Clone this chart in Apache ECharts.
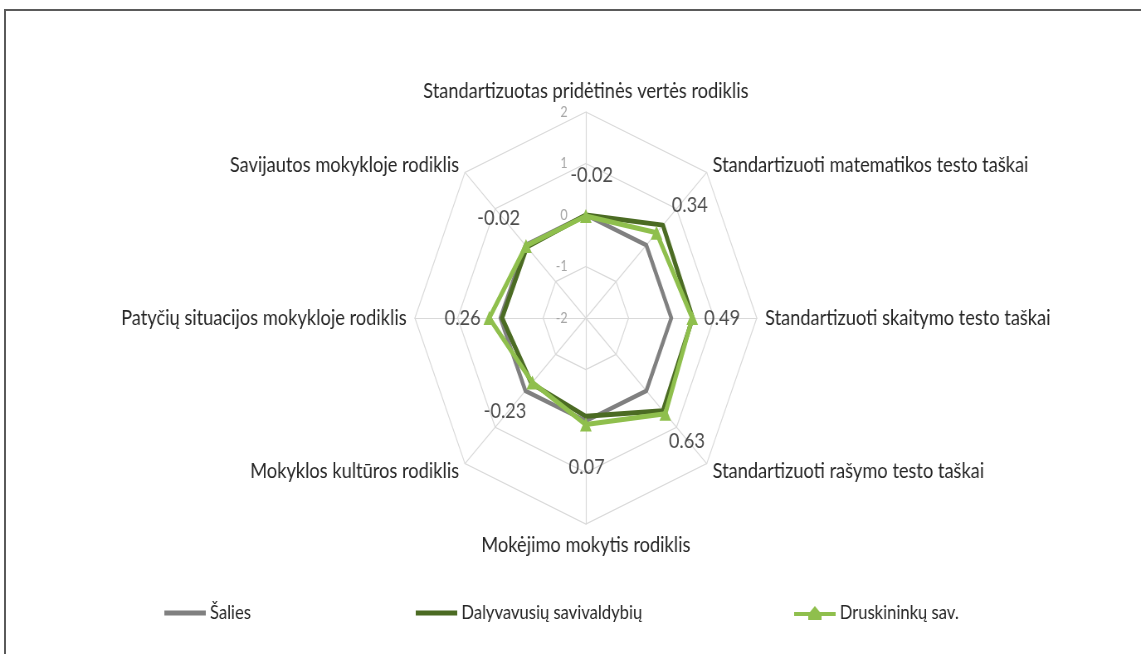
<!DOCTYPE html>
<html>
<head>
<meta charset="utf-8">
<script src="https://cdn.jsdelivr.net/npm/echarts@6/dist/echarts.min.js"></script>
<style>
  html, body { margin: 0; padding: 0; background: #fff; overflow: hidden; }
  #frame { position: absolute; left: 4px; top: 9px; width: 1200px; height: 700px; z-index: 5;
           border-top: 2px solid #5a5a5a; border-left: 2px solid #5a5a5a; pointer-events: none; }
  #chart { position: absolute; left: 0; top: 0; width: 1375px; height: 654px;
           transform: scaleX(0.8298); transform-origin: 0 0; }
</style>
</head>
<body>
<div id="chart"></div>
<div id="frame"></div>
<script>
// indicators, clockwise from the top
const indicators = [
  'Standartizuotas pridėtinės vertės rodiklis',
  'Standartizuoti matematikos testo taškai',
  'Standartizuoti skaitymo testo taškai',
  'Standartizuoti rašymo testo taškai',
  'Mokėjimo mokytis rodiklis',
  'Mokyklos kultūros rodiklis',
  'Patyčių situacijos mokykloje rodiklis',
  'Savijautos mokykloje rodiklis'
];
const salies = [0, 0, 0, 0, 0, 0, 0, 0];
const dalyvavusiu = [0.0, 0.55, 0.5, 0.55, -0.09, -0.2, -0.04, -0.05];
const druskininku = [-0.02, 0.34, 0.49, 0.63, 0.07, -0.23, 0.26, -0.02];
const seriesNames = ['Šalies', 'Dalyvavusių savivaldybių', 'Druskininkų sav.'];
const axisMin = -2;
const axisMax = 2;

// label offsets (px) for the value labels, per indicator
const labelOffsets = [[7, -41], [40, -28], [36, 0], [26, 27], [1, 42], [-33, 28], [-32, 0], [-33, -28]];

// echarts radar runs counter-clockwise, so reorder to keep the picture clockwise
const order = [0, 7, 6, 5, 4, 3, 2, 1];
const ccw = arr => order.map(i => arr[i]);

const FONT = 'Lato';
const center = [706, 318];
const radius = 206;

const chart = echarts.init(document.getElementById('chart'));

const legendBase = {
  bottom: 26,
  itemWidth: 50,
  itemHeight: 5,
  itemGap: 4,
  icon: 'rect',
  textStyle: { fontFamily: FONT, fontSize: 20, color: '#262626' },
  selectedMode: false
};

chart.setOption({
  animation: false,
  backgroundColor: 'transparent',
  textStyle: { fontFamily: FONT },
  legend: [
    Object.assign({}, legendBase, { left: 193, data: [seriesNames[0]] }),
    Object.assign({}, legendBase, { left: 496, data: [seriesNames[1]] }),
    Object.assign({}, legendBase, {
      left: 952, itemHeight: 14, data: [{
        name: seriesNames[2],
        icon: 'path://M0,6 L19,6 L25,0 L31,6 L50,6 L50,10 L33,10 L33,14 L17,14 L17,10 L0,10 Z'
      }]
    })
  ],
  radar: {
    center: center,
    radius: radius,
    startAngle: 90,
    splitNumber: 4,
    shape: 'polygon',
    indicator: ccw(indicators).map(n => ({ name: n, min: axisMin, max: axisMax })),
    axisName: { color: '#262626', fontSize: 22, fontFamily: FONT },
    nameGap: 10,
    splitLine: { lineStyle: { color: '#d9d9d9', width: 1.2 } },
    splitArea: { show: false },
    axisLine: { lineStyle: { color: '#d9d9d9', width: 1.2 } },
    axisTick: { show: false },
    axisLabel: { show: false }
  },
  polar: { center: center, radius: radius },
  angleAxis: {
    type: 'value', min: 0, max: 360, startAngle: 90, clockwise: true,
    axisLine: { show: false }, axisTick: { show: false },
    axisLabel: { show: false }, splitLine: { show: false }
  },
  radiusAxis: {
    type: 'value', min: axisMin, max: axisMax, interval: 1,
    axisLine: { show: false }, axisTick: { show: false }, splitLine: { show: false },
    axisLabel: { color: '#a6a6a6', fontSize: 15, fontFamily: FONT, margin: 22 }
  },
  series: [
    {
      type: 'radar',
      symbol: 'none',
      z: 2,
      data: [
        { name: seriesNames[0], value: ccw(salies),
          lineStyle: { color: '#808080', width: 4.5 }, itemStyle: { color: '#808080' } },
        { name: seriesNames[1], value: ccw(dalyvavusiu),
          lineStyle: { color: '#4b6b23', width: 5 }, itemStyle: { color: '#4b6b23' } }
      ]
    },
    {
      type: 'radar',
      symbol: 'triangle',
      symbolSize: 14,
      z: 3,
      data: [
        { name: seriesNames[2], value: ccw(druskininku),
          lineStyle: { color: '#8fbf4d', width: 5 }, itemStyle: { color: '#8fbf4d' } }
      ]
    },
    {
      // value labels of the Druskininkų series
      type: 'scatter',
      coordinateSystem: 'polar',
      symbolSize: 1,
      itemStyle: { color: 'rgba(0,0,0,0)' },
      z: 5,
      silent: true,
      label: {
        show: true,
        position: 'inside',
        color: '#1f1f1f',
        fontSize: 22,
        fontFamily: FONT,
        formatter: p => p.value[0].toFixed(2)
      },
      data: druskininku.map((v, i) => ({
        value: [v, i * 360 / indicators.length],
        label: { offset: labelOffsets[i] }
      }))
    }
  ]
});
</script>
</body>
</html>
